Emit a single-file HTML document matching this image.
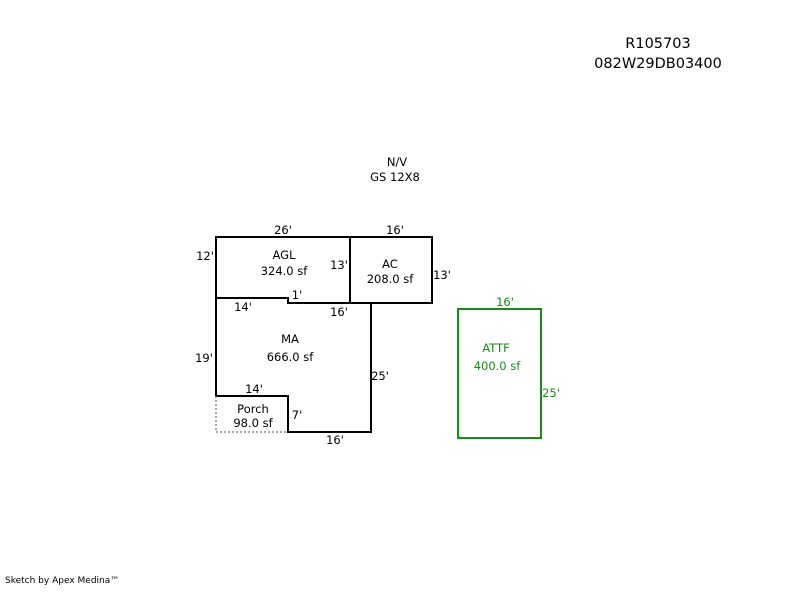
<!DOCTYPE html>
<html><head><style>
body{margin:0;background:#fff;}
svg text{font-family:"DejaVu Sans","Liberation Sans",sans-serif;font-size:11.5px;}
</style></head><body>
<svg width="800" height="587" xmlns="http://www.w3.org/2000/svg">
<text x="658" y="48" text-anchor="middle" style="font-size:14.5px">R105703</text>
<text x="658" y="68" text-anchor="middle" style="font-size:14.5px">082W29DB03400</text>
<text x="397" y="166" text-anchor="middle">N/V</text>
<text x="395" y="181" text-anchor="middle">GS 12X8</text>
<g fill="none" stroke="#000" stroke-width="2">
<path d="M216,237 H432 V303 H288 V298 H216 Z"/>
<path d="M350,237 V303"/>
<path d="M216,298 V396 H288 V432 H371 V303"/>
</g>
<path d="M216,396 V432 H288" fill="none" stroke="#888" stroke-width="1.5" stroke-dasharray="2,2"/>
<rect x="458" y="309" width="83" height="129" fill="none" stroke="#1a8a1a" stroke-width="2"/>
<g>
<text x="283" y="234" text-anchor="middle">26'</text>
<text x="395" y="234" text-anchor="middle">16'</text>
<text x="205" y="260" text-anchor="middle">12'</text>
<text x="284" y="259" text-anchor="middle">AGL</text>
<text x="284" y="275" text-anchor="middle">324.0 sf</text>
<text x="339" y="269" text-anchor="middle">13'</text>
<text x="390" y="268" text-anchor="middle">AC</text>
<text x="390" y="283" text-anchor="middle">208.0 sf</text>
<text x="442" y="279" text-anchor="middle">13'</text>
<text x="297" y="299" text-anchor="middle">1'</text>
<text x="243" y="311" text-anchor="middle">14'</text>
<text x="339" y="316" text-anchor="middle">16'</text>
<text x="290" y="343" text-anchor="middle">MA</text>
<text x="290" y="361" text-anchor="middle">666.0 sf</text>
<text x="204" y="362" text-anchor="middle">19'</text>
<text x="380" y="380" text-anchor="middle">25'</text>
<text x="254" y="393" text-anchor="middle">14'</text>
<text x="253" y="413" text-anchor="middle">Porch</text>
<text x="253" y="427" text-anchor="middle">98.0 sf</text>
<text x="297" y="419" text-anchor="middle">7'</text>
<text x="335" y="444" text-anchor="middle">16'</text>
</g>
<g fill="#1a8a1a">
<text x="505" y="306" text-anchor="middle">16'</text>
<text x="496" y="352" text-anchor="middle">ATTF</text>
<text x="497" y="370" text-anchor="middle">400.0 sf</text>
<text x="551" y="397" text-anchor="middle">25'</text>
</g>
<text x="5" y="583" style="font-size:9px">Sketch by Apex Medina™</text>
</svg>
</body></html>
